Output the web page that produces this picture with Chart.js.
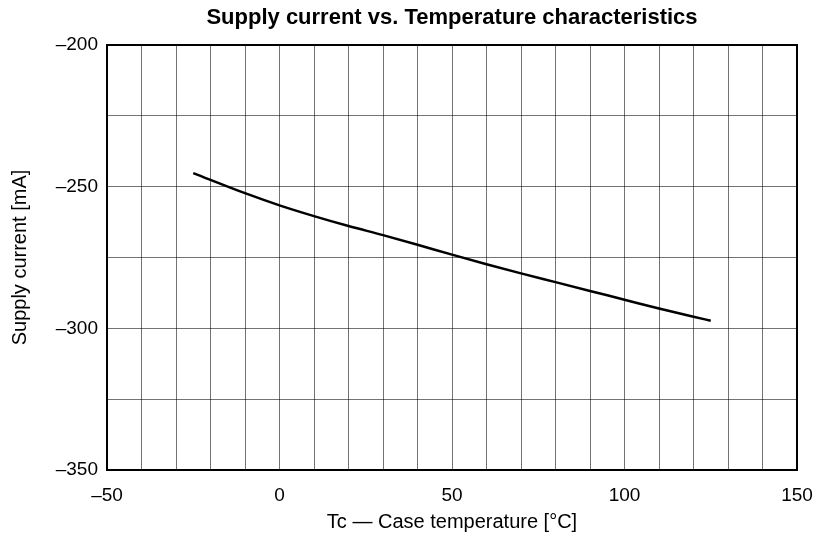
<!DOCTYPE html>
<html>
<head>
<meta charset="utf-8">
<script src="https://cdn.jsdelivr.net/npm/chart.js@4/dist/chart.umd.min.js"></script>
<style>
  html, body { margin: 0; padding: 0; background: #fff; }
  #wrap { width: 818px; height: 536px; }
</style>
</head>
<body>
<div id="wrap"><canvas id="chart" width="818" height="536"></canvas></div>
<script>
// Supply current vs. case temperature
const temps = [-25, -10, 0, 10, 20, 30, 40, 50, 60, 70, 80, 90, 100, 110, 120, 125];
const currents = [-245.2, -252.3, -256.6, -260.4, -263.9, -267.1, -270.5, -274.0,
                  -277.4, -280.6, -283.7, -286.8, -289.9, -293.0, -295.9, -297.3];

const xTickLabels = [-50, 0, 50, 100, 150];
const yTickLabels = [-350, -300, -250, -200];

const FONT = "'Liberation Sans', Arial, sans-serif";

// dash instead of hyphen, like the datasheet
const fmt = v => String(v).replace('-', '\u2013');

// closed frame round the plot area
const framePlugin = {
  id: 'frame',
  afterDraw(chart) {
    const { ctx, chartArea: a } = chart;
    ctx.save();
    ctx.strokeStyle = '#000';
    ctx.lineWidth = 2;
    ctx.strokeRect(a.left, a.top, a.right - a.left, a.bottom - a.top);
    ctx.restore();
  }
};

const ctx = document.getElementById('chart').getContext('2d');
const chart = new Chart(ctx, {
  type: 'scatter',
  data: {
    datasets: [{
      data: temps.map((t, i) => ({ x: t, y: currents[i] })),
      showLine: true,
      borderColor: '#000',
      borderWidth: 2.5,
      pointRadius: 0,
      cubicInterpolationMode: 'monotone'
    }]
  },
  options: {
    responsive: false,
    animation: false,
    layout: { padding: { left: 0, right: 21, top: 0, bottom: 0 } },
    plugins: {
      legend: { display: false },
      tooltip: { enabled: false },
      title: {
        display: true,
        text: 'Supply current vs. Temperature characteristics',
        fullSize: false,
        color: '#000',
        font: { family: FONT, size: 22, weight: 'bold', lineHeight: 1.2 },
        padding: { top: 5, bottom: 13.6 }
      }
    },
    scales: {
      x: {
        type: 'linear',
        min: -50,
        max: 150,
        afterFit(scale) {
          scale.height = 66;
          scale.paddingLeft = 0;
          scale.paddingRight = 0;
        },
        border: { display: true, color: '#000', width: 2 },
        grid: { color: 'rgba(0,0,0,0.55)', lineWidth: 1, drawTicks: false },
        ticks: {
          stepSize: 10,
          padding: 14,
          autoSkip: false,
          minRotation: 0,
          maxRotation: 0,
          color: '#000',
          font: { family: FONT, size: 19 },
          callback: v => xTickLabels.includes(v) ? fmt(v) : ''
        },
        title: {
          display: true,
          text: 'Tc \u2014 Case temperature [\u00b0C]',
          color: '#000',
          font: { family: FONT, size: 20 },
          padding: { top: 0, bottom: 2 }
        }
      },
      y: {
        type: 'linear',
        min: -350,
        max: -200,
        afterFit(scale) {
          scale.width = 107;
          scale.paddingTop = 0;
          scale.paddingBottom = 0;
        },
        border: { display: true, color: '#000', width: 2 },
        grid: { color: 'rgba(0,0,0,0.55)', lineWidth: 1, drawTicks: false },
        ticks: {
          stepSize: 25,
          padding: 9,
          autoSkip: false,
          color: '#000',
          font: { family: FONT, size: 19 },
          callback: v => yTickLabels.includes(v) ? fmt(v) : ''
        },
        title: {
          display: true,
          text: 'Supply current [mA]',
          color: '#000',
          font: { family: FONT, size: 20 },
          padding: { top: 8, bottom: 0 }
        }
      }
    }
  },
  plugins: [framePlugin]
});
</script>
</body>
</html>
